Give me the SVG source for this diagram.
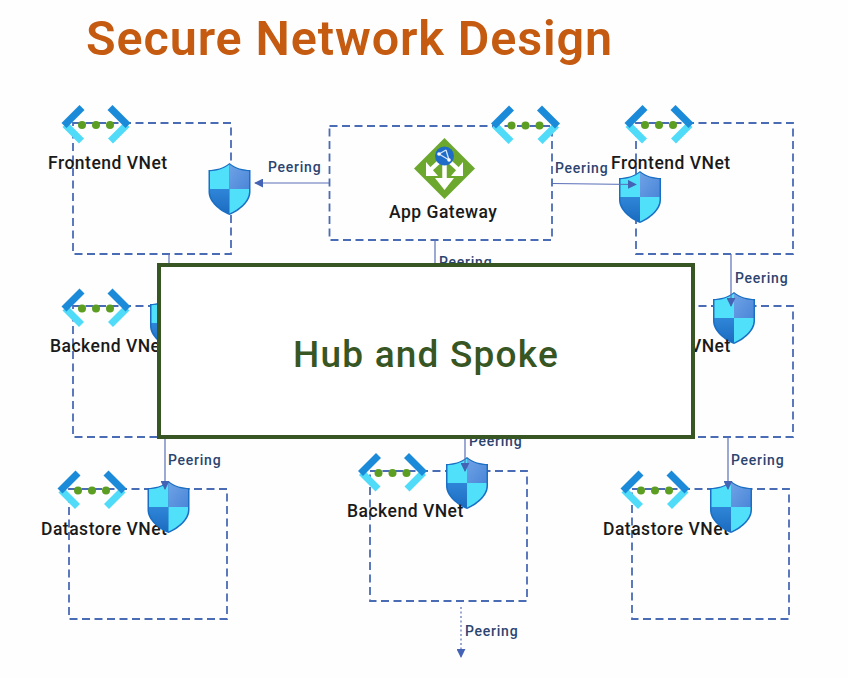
<svg xmlns="http://www.w3.org/2000/svg" width="848" height="678" viewBox="0 0 848 678">
<style>
.box{fill:none;stroke:#4a6cb5;stroke-width:1.8;stroke-dasharray:8 4.5}
.conn{fill:none;stroke:#5a6fb8;stroke-width:1.2}
.lab{font-family:Roboto,"Liberation Sans",sans-serif;font-size:14px;font-weight:500;fill:#2c4470;letter-spacing:.75px}
.name{font-family:Roboto,"Liberation Sans",sans-serif;font-size:17.5px;font-weight:500;fill:#1a1a1a;letter-spacing:.5px}
text{font-family:Roboto,"Liberation Sans",sans-serif}
</style>
<defs>
<marker id="arr" viewBox="0 0 10 10" refX="9" refY="5" markerWidth="9" markerHeight="9" markerUnits="userSpaceOnUse" orient="auto"><path d="M0 0L10 5L0 10Z" fill="#4463b4"/></marker>
<linearGradient id="sd" x1="0" y1="0" x2="0" y2="1"><stop offset="0" stop-color="#2f86d8"/><stop offset="1" stop-color="#1c6cc0"/></linearGradient>
<linearGradient id="sm" x1="0" y1="0" x2="1" y2="1"><stop offset="0" stop-color="#6fa3e6"/><stop offset="1" stop-color="#4b86d8"/></linearGradient>
<g id="vnet">
<path d="M-31 0L-14.500 16.500" fill="none" stroke="#50dcf8" stroke-width="7"/>
<path d="M31 0L14.500 16.500" fill="none" stroke="#50dcf8" stroke-width="7"/>
<path d="M-14 -17L-32 1" fill="none" stroke="#1b8ad8" stroke-width="7"/>
<path d="M14 -17L32 1" fill="none" stroke="#1b8ad8" stroke-width="7"/>
<circle cx="-14" cy="0.500" r="4" fill="#5c9e22"/><circle cx="0" cy="0.500" r="4" fill="#5c9e22"/><circle cx="14" cy="0.500" r="4" fill="#5c9e22"/>
</g>
<g id="shield">
<path d="M0 -26C-6 -21 -14 -19 -21 -19V3C-21 13 -10 22 0 26C10 22 21 13 21 3V-19C14 -19 6 -21 0 -26Z" fill="#1a6fc4"/>
<path d="M0 -24.500C-6 -20 -13 -18 -19.500 -17.800V0H0Z" fill="#50e0fa"/>
<path d="M0 -24.500C6 -20 13 -18 19.500 -17.800V0H0Z" fill="url(#sm)"/>
<path d="M-19.500 0V3C-19.500 12 -9 20.500 0 24.500V0Z" fill="url(#sd)"/>
<path d="M19.500 0V3C19.500 12 9 20.500 0 24.500V0Z" fill="#50e0fa"/>
</g>
</defs>
<rect width="848" height="678" fill="#fefefe"/>
<text x="86" y="55" font-size="48.500" font-weight="600" fill="#c55a11" letter-spacing="0.900">Secure Network Design</text>
<g id="frontend-left">
<rect class="box" x="73" y="123" width="158" height="131"/>
<use href="#vnet" x="96" y="124.500"/>
<text class="name" x="48" y="168.500">Frontend VNet</text>
<use href="#shield" x="229.500" y="189"/>
</g>
<g id="app-gateway">
<rect class="box" x="329.500" y="126" width="222.500" height="114"/>
<use href="#vnet" x="525.500" y="125"/>
<path d="M444.500 138L475 168.500L444.500 199L414 168.500Z" fill="#6ca82e"/>
<path d="M444.500 160V182" fill="none" stroke="#fff" stroke-width="4.500"/>
<path d="M435 178L444.500 190L454 178Z" fill="#fff"/>
<path d="M440 161L428 172" fill="none" stroke="#fff" stroke-width="4"/>
<path d="M426 162V176H438Z" fill="#fff"/>
<path d="M449 161L461 172" fill="none" stroke="#fff" stroke-width="4"/>
<path d="M463 162V176H451Z" fill="#fff"/>
<circle cx="444.500" cy="156" r="9.500" fill="#1f6cc8"/>
<path d="M439 154L446 150M439 154L449 160M446 150L449 160" fill="none" stroke="#d5e8fa" stroke-width="1.300"/>
<circle cx="439" cy="154" r="1.800" fill="#fff"/><circle cx="449" cy="160" r="1.800" fill="#fff"/>
<text class="name" x="389" y="217.500">App Gateway</text>
</g>
<g id="frontend-right">
<rect class="box" x="636" y="123" width="157" height="131"/>
<use href="#vnet" x="659" y="124.500"/>
<use href="#shield" x="640" y="197"/>
<text class="name" x="611" y="168.500">Frontend VNet</text>
</g>
<g id="backend-left">
<rect class="box" x="73" y="306" width="158" height="131"/>
<use href="#vnet" x="96" y="308"/>
<use href="#shield" x="171" y="323"/>
<text class="name" x="50" y="351.500">Backend VNet</text>
</g>
<g id="backend-right">
<rect class="box" x="636" y="306" width="157" height="131"/>
<use href="#shield" x="734" y="318"/>
<text class="name" x="614" y="351.500">Backend VNet</text>
</g>
<g id="datastore-left">
<rect class="box" x="69" y="489" width="158" height="130"/>
<use href="#vnet" x="92" y="490"/>
<text class="name" x="41" y="534.500">Datastore VNet</text>
<use href="#shield" x="168.500" y="507"/>
</g>
<g id="backend-middle">
<rect class="box" x="370" y="471" width="157" height="130"/>
<use href="#vnet" x="392.500" y="472.500"/>
<use href="#shield" x="467" y="483"/>
<text class="name" x="347" y="516.500">Backend VNet</text>
</g>
<g id="datastore-right">
<rect class="box" x="632" y="489" width="157" height="130"/>
<use href="#vnet" x="655" y="490"/>
<text class="name" x="603" y="534.500">Datastore VNet</text>
<use href="#shield" x="731" y="507"/>
</g>
<g id="connectors">
<path class="conn" d="M329 183H255" marker-end="url(#arr)"/>
<path class="conn" d="M552 183.500L636 184.500" marker-end="url(#arr)"/>
<path class="conn" d="M169 254V270"/>
<path class="conn" d="M435 240V270"/>
<path class="conn" d="M731 254V306" marker-end="url(#arr)"/>
<path class="conn" d="M165 437V489" marker-end="url(#arr)"/>
<path class="conn" d="M465 437V471" marker-end="url(#arr)"/>
<path class="conn" d="M728 437V489" marker-end="url(#arr)"/>
<path class="conn" d="M461 607V657" stroke-dasharray="2 2.500" marker-end="url(#arr)"/>
</g>
<g id="peering-labels">
<text class="lab" x="268" y="172">Peering</text>
<text class="lab" x="555" y="173">Peering</text>
<text class="lab" x="439" y="267">Peering</text>
<text class="lab" x="735" y="283">Peering</text>
<text class="lab" x="168" y="465">Peering</text>
<text class="lab" x="469" y="446">Peering</text>
<text class="lab" x="731" y="465">Peering</text>
<text class="lab" x="465" y="636">Peering</text>
</g>
<g id="hub-and-spoke">
<rect x="159" y="265" width="534" height="172" fill="#fff" stroke="#375623" stroke-width="4"/>
<text x="426" y="367" text-anchor="middle" font-size="37" font-weight="500" fill="#375623" letter-spacing="1.200">Hub and Spoke</text>
</g>
</svg>
